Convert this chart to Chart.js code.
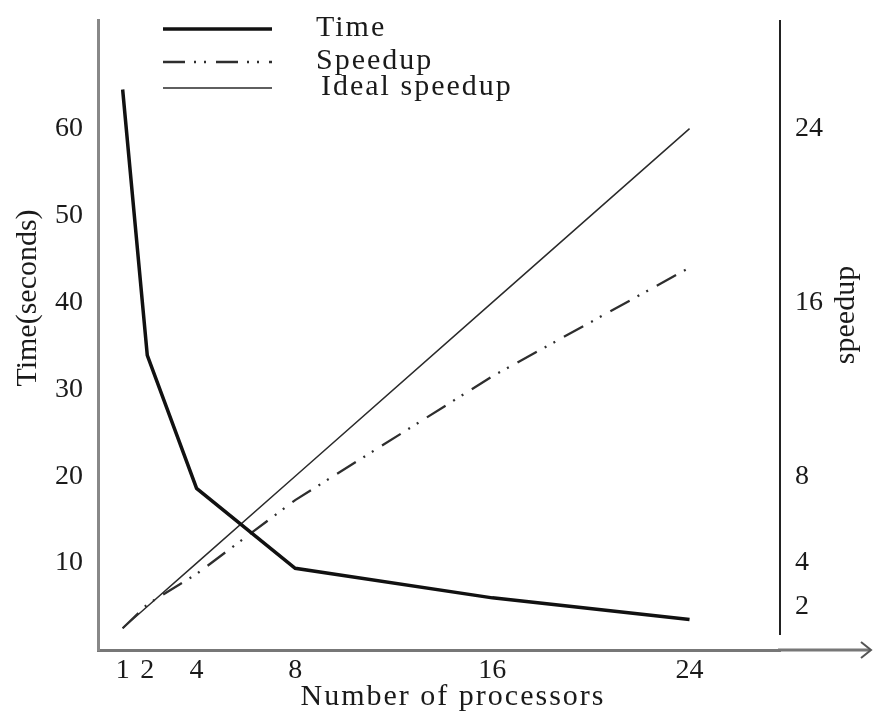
<!DOCTYPE html>
<html>
<head>
<meta charset="utf-8">
<script src="https://cdn.jsdelivr.net/npm/chart.js@4.4.1/dist/chart.umd.min.js"></script>
<style>
  html, body { margin: 0; padding: 0; background: #fff; }
  #wrap { width: 874px; height: 715px; }
</style>
</head>
<body>
<div id="wrap"><canvas id="myChart" width="874" height="715"></canvas></div>
<script>
const processors = [1, 2, 4, 8, 16, 24];
const timeSeconds = [64.5, 33.9, 18.6, 9.4, 6.0, 3.5];
const speedup = [1, 2.1, 3.5, 6.9, 12.6, 17.6];
const idealSpeedup = [1, 2, 4, 8, 16, 24];

const xTicks = [1, 2, 4, 8, 16, 24];
const timeTicks = [10, 20, 30, 40, 50, 60];
const speedupTicks = [2, 4, 8, 16, 24];

const FONT = "'Liberation Serif', 'Times New Roman', serif";

const toPoints = (ys) => processors.map((x, i) => ({ x: x, y: ys[i] }));

// drop the half-label padding chart.js adds round the scales
const noEdgePadding = (scale) => {
  scale.paddingTop = 0;
  scale.paddingBottom = 0;
  scale.paddingLeft = 0;
  scale.paddingRight = 0;
};

// axis titles, right axis line, x-axis arrow and the legend
const extras = {
  id: 'extras',
  afterDraw(chart) {
    const ctx = chart.ctx;
    const area = chart.chartArea;
    ctx.save();

    // x axis runs past the chart area and ends in an arrow
    ctx.strokeStyle = '#777';
    ctx.lineWidth = 3;
    ctx.beginPath();
    ctx.moveTo(area.right - 2, area.bottom);
    ctx.lineTo(870, area.bottom);
    ctx.stroke();
    ctx.lineWidth = 2;
    ctx.strokeStyle = '#555';
    ctx.beginPath();
    ctx.moveTo(861, area.bottom - 8);
    ctx.lineTo(871, area.bottom);
    ctx.lineTo(861, area.bottom + 8);
    ctx.stroke();

    // right axis line, stops short of the x axis
    const rx = chart.scales.y2.left;
    ctx.strokeStyle = '#222';
    ctx.lineWidth = 2;
    ctx.beginPath();
    ctx.moveTo(rx, area.top);
    ctx.lineTo(rx, area.bottom - 15);
    ctx.stroke();

    // axis titles
    ctx.fillStyle = '#1a1a1a';
    ctx.font = '30px ' + FONT;
    ctx.textAlign = 'center';
    ctx.textBaseline = 'middle';
    ctx.save();
    ctx.translate(28, 298);
    ctx.rotate(-Math.PI / 2);
    ctx.fillText('Time(seconds)', 0, 0);
    ctx.restore();
    ctx.save();
    ctx.translate(846, 315);
    ctx.rotate(-Math.PI / 2);
    ctx.fillText('speedup', 0, 0);
    ctx.restore();

    ctx.letterSpacing = '2px';
    ctx.fillText('Number of processors', 453, 697);

    // legend
    const rows = [29, 62, 88];
    const textX = [316, 316, 321];
    ctx.textAlign = 'left';
    ctx.textBaseline = 'alphabetic';
    chart.data.datasets.forEach((ds, i) => {
      ctx.strokeStyle = ds.borderColor;
      ctx.lineWidth = ds.borderWidth;
      ctx.setLineDash(ds.borderDash || []);
      ctx.beginPath();
      ctx.moveTo(163, rows[i]);
      ctx.lineTo(272, rows[i]);
      ctx.stroke();
      ctx.setLineDash([]);
      ctx.fillText(ds.label, textX[i], rows[i] + 7);
    });

    ctx.restore();
  }
};

const ctxt = document.getElementById('myChart').getContext('2d');

const myChart = new Chart(ctxt, {
  type: 'line',
  data: {
    datasets: [
      {
        label: 'Time',
        data: toPoints(timeSeconds),
        yAxisID: 'y',
        borderColor: '#111',
        borderWidth: 3.5,
        pointRadius: 0
      },
      {
        label: 'Speedup',
        data: toPoints(speedup),
        yAxisID: 'y2',
        borderColor: '#2e2e2e',
        borderWidth: 2.3,
        borderDash: [22, 9, 2, 8, 2, 10],
        pointRadius: 0
      },
      {
        label: 'Ideal speedup',
        data: toPoints(idealSpeedup),
        yAxisID: 'y2',
        borderColor: '#2a2a2a',
        borderWidth: 1.5,
        pointRadius: 0
      }
    ]
  },
  options: {
    responsive: false,
    animation: false,
    devicePixelRatio: 1,
    layout: { padding: { top: 20, left: 0, right: 0, bottom: 0 } },
    plugins: {
      legend: { display: false },
      tooltip: { enabled: false }
    },
    scales: {
      x: {
        type: 'linear',
        min: 0,
        max: 27.67,
        grid: { display: false, drawTicks: false },
        border: { display: true, color: '#777', width: 3 },
        afterBuildTicks: (scale) => { scale.ticks = xTicks.map(v => ({ value: v })); },
        afterFit: (scale) => { scale.height = 65; noEdgePadding(scale); },
        ticks: {
          autoSkip: false,
          maxRotation: 0,
          padding: 4,
          color: '#1a1a1a',
          font: { family: FONT, size: 28 }
        }
      },
      y: {
        position: 'left',
        min: 0,
        max: 72.5,
        grid: { display: false, drawTicks: false },
        border: { display: true, color: '#888', width: 3 },
        afterBuildTicks: (scale) => { scale.ticks = timeTicks.map(v => ({ value: v })); },
        afterFit: (scale) => { scale.width = 98; noEdgePadding(scale); },
        ticks: {
          padding: 15,
          color: '#1a1a1a',
          font: { family: FONT, size: 28 }
        }
      },
      y2: {
        position: 'right',
        min: 0,
        max: 29,
        grid: { display: false, drawTicks: false },
        border: { display: false },
        afterBuildTicks: (scale) => { scale.ticks = speedupTicks.map(v => ({ value: v })); },
        afterFit: (scale) => { scale.width = 94; noEdgePadding(scale); },
        ticks: {
          padding: 15,
          color: '#1a1a1a',
          font: { family: FONT, size: 28 }
        }
      }
    }
  },
  plugins: [extras]
});
</script>
</body>
</html>
